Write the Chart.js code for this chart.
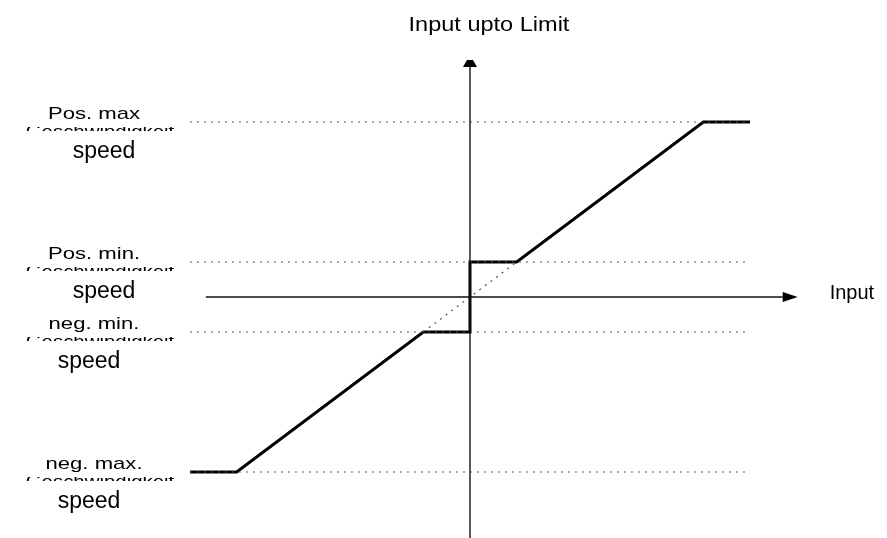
<!DOCTYPE html>
<html>
<head>
<meta charset="utf-8">
<script src="https://cdn.jsdelivr.net/npm/chart.js@4.4.1/dist/chart.umd.min.js"></script>
<style>
  body { margin: 0; background: #fff; }
  #wrap { width: 887px; height: 538px; }
</style>
</head>
<body>
<div id="wrap"><canvas id="myChart" width="887" height="538"></canvas></div>
<script>
// input (x) and output speed (y) of the limiter curve
const curveX = [-6, -5, -1, 0, 0, 1, 5, 6];
const curveY = [-5, -5, -1, -1, 1, 1, 5, 5];

// dotted limit levels
const levelValues = [5, 1, -1, -5];
const levelTop = ["Pos. max", "Pos. min.", "neg. min.", "neg. max."];
const levelMid = "Geschwindigkeit";
const levelBottom = "speed";

// dotted helper diagonal through origin
const diagX = [-1, 1];
const diagY = [-1, 1];

const axisTitle = "Input upto Limit";
const xAxisTitle = "Input";

// axis extents
const xAxisRange = [-5.66, 6.7];
const yAxisRange = [-6.9, 6.57];

function pts(xs, ys) {
  let out = [];
  for (var i = 0; i < xs.length; i++) {
    out.push({ x: xs[i], y: ys[i] });
  }
  return out;
}

let datasets = [];

// axes
datasets.push({
  data: pts(xAxisRange, [0, 0]),
  borderColor: "#111",
  borderWidth: 1.4,
  pointRadius: 0,
});
datasets.push({
  data: pts([0, 0], yAxisRange),
  borderColor: "#111",
  borderWidth: 1.4,
  pointRadius: 0,
});

// dotted levels
levelValues.forEach(function (v) {
  datasets.push({
    data: pts([-6, 6], [v, v]),
    borderColor: "#555",
    borderWidth: 1.2,
    borderDash: [2, 5],
    pointRadius: 0,
  });
});

datasets.push({
  data: pts(diagX, diagY),
  borderColor: "#555",
  borderWidth: 1.2,
  borderDash: [2, 5],
  pointRadius: 0,
});

// main curve
datasets.push({
  data: pts(curveX, curveY),
  borderColor: "#000",
  borderWidth: 3,
  pointRadius: 0,
  borderJoinStyle: "miter",
});

// text squeezed wider like the original drawing
function wideText(ctx, txt, x, y, size, sx) {
  ctx.save();
  ctx.translate(x, y);
  ctx.scale(sx, 1);
  ctx.font = size + "px 'Liberation Sans', Arial, sans-serif";
  ctx.fillText(txt, 0, 0);
  ctx.restore();
}

const labelsPlugin = {
  id: "labels",
  afterDraw: function (chart) {
    const ctx = chart.ctx;
    const xs = chart.scales.x;
    const ys = chart.scales.y;
    ctx.save();
    ctx.fillStyle = "#000";

    // arrows
    let ax = xs.getPixelForValue(xAxisRange[1]);
    let ay = ys.getPixelForValue(0);
    ctx.beginPath();
    ctx.moveTo(ax, ay - 5);
    ctx.lineTo(ax + 15, ay);
    ctx.lineTo(ax, ay + 5);
    ctx.closePath();
    ctx.fill();

    let bx = xs.getPixelForValue(0);
    let by = ys.getPixelForValue(yAxisRange[1]);
    ctx.beginPath();
    ctx.moveTo(bx - 7, by);
    ctx.lineTo(bx - 3, by - 7);
    ctx.lineTo(bx + 3, by - 7);
    ctx.lineTo(bx + 7, by);
    ctx.closePath();
    ctx.fill();

    // titles
    ctx.textAlign = "center";
    ctx.textBaseline = "middle";
    wideText(ctx, axisTitle, bx + 19, 25, 21, 1.12);
    ctx.textAlign = "left";
    wideText(ctx, xAxisTitle, ax + 47, ay - 4, 20, 1);

    // level labels
    levelValues.forEach(function (v, i) {
      let py = ys.getPixelForValue(v);
      let cx = 94;
      ctx.textAlign = "center";
      ctx.textBaseline = "middle";
      wideText(ctx, levelTop[i], cx, py - 8, 17, 1.3);

      ctx.save();
      ctx.beginPath();
      ctx.rect(0, py + 5, 185, 4);
      ctx.clip();
      ctx.textBaseline = "top";
      wideText(ctx, levelMid, cx + 6, py + 2, 17, 1.2);
      ctx.restore();

      let sxc = i < 2 ? 104 : 89;
      wideText(ctx, levelBottom, sxc, py + 30, 23, 1);
    });
    ctx.restore();
  },
};

var chart = new Chart(document.getElementById("myChart").getContext("2d"), {
  type: "scatter",
  data: { datasets: datasets },
  options: {
    responsive: false,
    animation: false,
    devicePixelRatio: 1,
    showLine: true,
    layout: { padding: 0 },
    plugins: { legend: { display: false }, tooltip: { enabled: false } },
    scales: {
      x: { type: "linear", display: false, min: -10.07, max: 8.935 },
      y: { type: "linear", display: false, min: -6.886, max: 8.486 },
    },
  },
  plugins: [labelsPlugin],
});
</script>
</body>
</html>
